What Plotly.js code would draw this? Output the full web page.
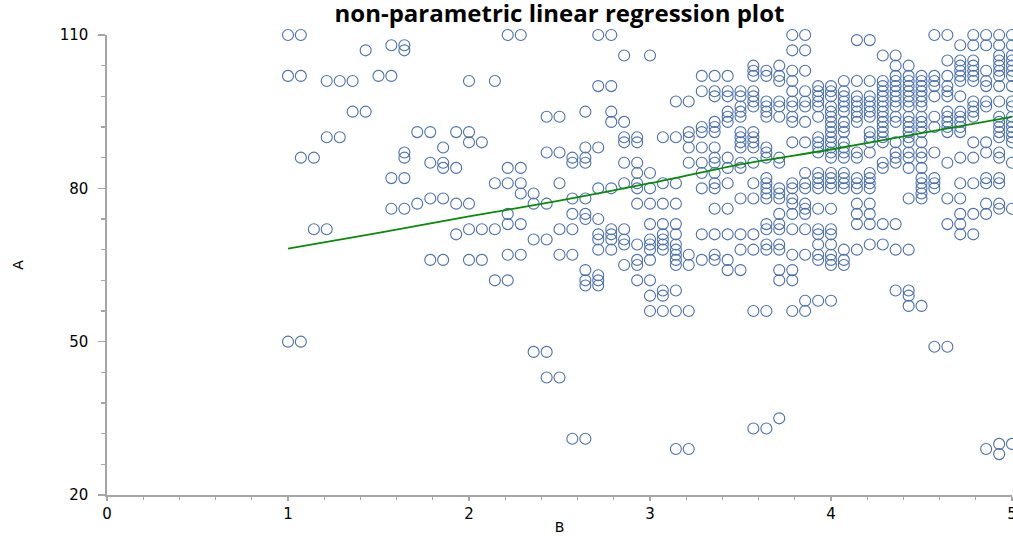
<!DOCTYPE html>
<html>
<head>
<meta charset="utf-8">
<script src="https://cdn.plot.ly/plotly-3.0.1.min.js"></script>
<style>html,body{margin:0;padding:0;background:#fff;}#chart{width:1013px;height:540px;}</style>
</head>
<body>
<div id="chart"></div>
<script>
// B levels (x) and the A values observed at each level
const bLevels = [1.000,1.071,1.143,1.214,1.286,1.357,1.429,1.500,1.571,1.643,1.714,1.786,1.857,1.929,
  2.000,2.071,2.143,2.214,2.286,2.357,2.429,2.500,2.571,2.643,2.714,2.786,2.857,2.929,
  3.000,3.071,3.143,3.214,3.286,3.357,3.429,3.500,3.571,3.643,3.714,3.786,3.857,3.929,
  4.000,4.071,4.143,4.214,4.286,4.357,4.429,4.500,4.571,4.643,4.714,4.786,4.857,4.929,5.000];
const aByLevel = [
  [110,102,50],
  [110,102,86,50],
  [86,72],
  [101,90,72],
  [101,90],
  [101,95],
  [107,95],
  [102],
  [108,102,82,76],
  [108,107,87,86,82,76],
  [91,77],
  [91,85,78,66],
  [88,85,84,78,66],
  [91,84,77,71],
  [101,91,89,77,72,66],
  [89,72,66],
  [101,81,72,62],
  [110,84,81,75,73,67,62],
  [110,84,81,79,73,67],
  [79,77,70,48],
  [94,87,77,70,48,43],
  [94,87,81,72,67,43],
  [86,85,78,75,72,67,31],
  [95,88,86,85,78,75,74,64,62,61,31],
  [110,100,88,80,74,71,70,68,63,62,61],
  [110,100,95,93,80,72,71,70,68],
  [106,93,90,89,85,81,72,70,69,65],
  [90,89,85,83,81,80,77,69,66,65,62],
  [106,83,80,77,73,70,69,68,66,62,59,56],
  [90,81,77,73,71,70,69,68,60,59,56],
  [97,90,81,77,73,71,69,68,67,66,65,60,56,29],
  [97,91,90,88,85,67,65,56,29],
  [102,99,92,91,88,85,83,80,71,66],
  [102,99,98,93,92,91,88,86,85,83,81,80,76,71,67,66],
  [102,99,98,95,94,93,86,84,81,76,71,66,64],
  [99,98,96,95,94,91,90,89,88,85,84,78,71,68,64],
  [104,103,102,99,98,97,96,91,90,89,88,85,81,78,71,68,56,33],
  [103,102,97,96,95,94,88,87,86,82,81,80,79,78,73,72,69,68,56,33],
  [104,102,101,97,96,94,86,85,80,79,78,75,73,72,69,68,64,62,35],
  [110,107,103,101,99,97,96,94,93,89,81,80,78,77,75,72,67,64,62,56],
  [110,107,103,99,97,96,93,89,83,81,80,77,76,75,72,67,58,56],
  [100,99,98,97,96,94,90,89,88,87,83,82,81,80,76,72,71,69,67,66,58],
  [100,99,98,96,95,94,93,92,91,90,89,88,87,86,83,82,81,80,76,72,71,69,67,66,65,58],
  [101,99,98,97,96,95,93,92,91,89,88,87,86,83,82,81,80,68,66,65],
  [109,101,98,97,96,95,94,93,87,86,82,81,80,77,75,73,68],
  [109,101,98,97,96,95,94,91,90,89,87,83,82,81,80,77,75,73,69],
  [106,101,100,99,98,97,96,95,94,93,92,91,90,89,85,84,73,69],
  [106,104,102,101,100,99,98,97,96,94,93,89,87,86,85,73,68,60],
  [104,102,101,100,99,98,97,96,94,93,92,91,90,89,87,86,84,78,68,60,59,57],
  [102,101,100,99,98,97,96,94,93,92,91,89,87,86,84,82,81,80,79,78,57],
  [110,102,101,100,98,94,92,87,82,81,80,49],
  [110,105,102,100,99,98,95,94,93,92,91,85,78,73,49],
  [108,105,104,103,102,101,98,95,94,93,92,91,86,81,78,75,73,71],
  [110,108,105,104,103,102,101,97,96,95,94,89,86,81,75,71],
  [110,108,103,101,100,97,96,89,87,82,81,77,75,29],
  [110,108,106,105,104,103,102,100,97,94,93,92,91,90,87,86,82,81,77,76,30,28],
  [110,108,106,105,104,103,102,100,97,96,94,93,92,91,90,89,85,76,30]
];
// fitted (non-parametric) regression line
const fitB = [1.0, 1.5, 2.0, 2.5, 3.0, 3.5, 4.0, 4.5, 5.0];
const fitA = [68.2, 71.3, 74.5, 77.6, 81.0, 84.7, 87.6, 90.8, 94.0];

const yTickVals = [20, 50, 80, 110];
const xTickVals = [0, 1, 2, 3, 4, 5];

const ptsB = [], ptsA = [];
bLevels.forEach((b, i) => aByLevel[i].forEach(a => { ptsB.push(b); ptsA.push(a); }));

const axisGray = '#a6a6a6';
const tickFont = {family: 'DejaVu Sans, Verdana, sans-serif', size: 15, color: '#000'};
const titleFont = {family: 'DejaVu Sans, Verdana, sans-serif', size: 14, color: '#000'};

const traces = [
  {type: 'scatter', mode: 'markers', x: ptsB, y: ptsA, cliponaxis: false,
   marker: {symbol: 'circle-open', size: 11, color: '#4a70ad', line: {width: 1.1, color: '#4a70ad'}},
   hoverinfo: 'skip', showlegend: false},
  {type: 'scatter', mode: 'lines', x: fitB, y: fitA, cliponaxis: false,
   line: {color: '#0a8a0a', width: 1.8, shape: 'spline', smoothing: 0.6}, hoverinfo: 'skip', showlegend: false}
];

const layout = {
  width: 1013, height: 540,
  margin: {l: 107, r: 1, t: 35, b: 45, pad: 0},
  paper_bgcolor: '#fff', plot_bgcolor: '#fff',
  showlegend: false,
  title: {text: 'non-parametric linear regression plot',
          font: {family: 'Open Sans, sans-serif', size: 24, weight: 'bold', color: '#000'},
          x: 0.5, xref: 'paper', xanchor: 'center', y: 0.99, yref: 'container', yanchor: 'top'},
  xaxis: {range: [0, 5], tickvals: xTickVals, ticks: 'outside', ticklen: 4, tickwidth: 1.3,
          tickcolor: axisGray, showline: true, linecolor: axisGray, linewidth: 1.6,
          showgrid: false, zeroline: false, tickfont: tickFont, ticklabeloverflow: 'allow',
          minor: {dtick: 0.2, tick0: 0, ticks: 'outside', ticklen: 3, tickwidth: 1.3, tickcolor: axisGray, showgrid: false},
          title: {text: 'B', font: titleFont, standoff: 0}},
  yaxis: {range: [20, 110], tickvals: yTickVals, ticks: 'outside', ticklen: 7, tickwidth: 1.3,
          tickcolor: axisGray, showline: true, linecolor: axisGray, linewidth: 1.6,
          showgrid: false, zeroline: false, tickfont: tickFont, ticklabelstandoff: 7,
          minor: {dtick: 6, tick0: 20, ticks: 'outside', ticklen: 4, tickwidth: 1.3, tickcolor: axisGray, showgrid: false},
          title: {text: 'A', font: titleFont, standoff: 33}}
};

Plotly.newPlot('chart', traces, layout, {displayModeBar: false, staticPlot: true});
</script>
</body>
</html>
